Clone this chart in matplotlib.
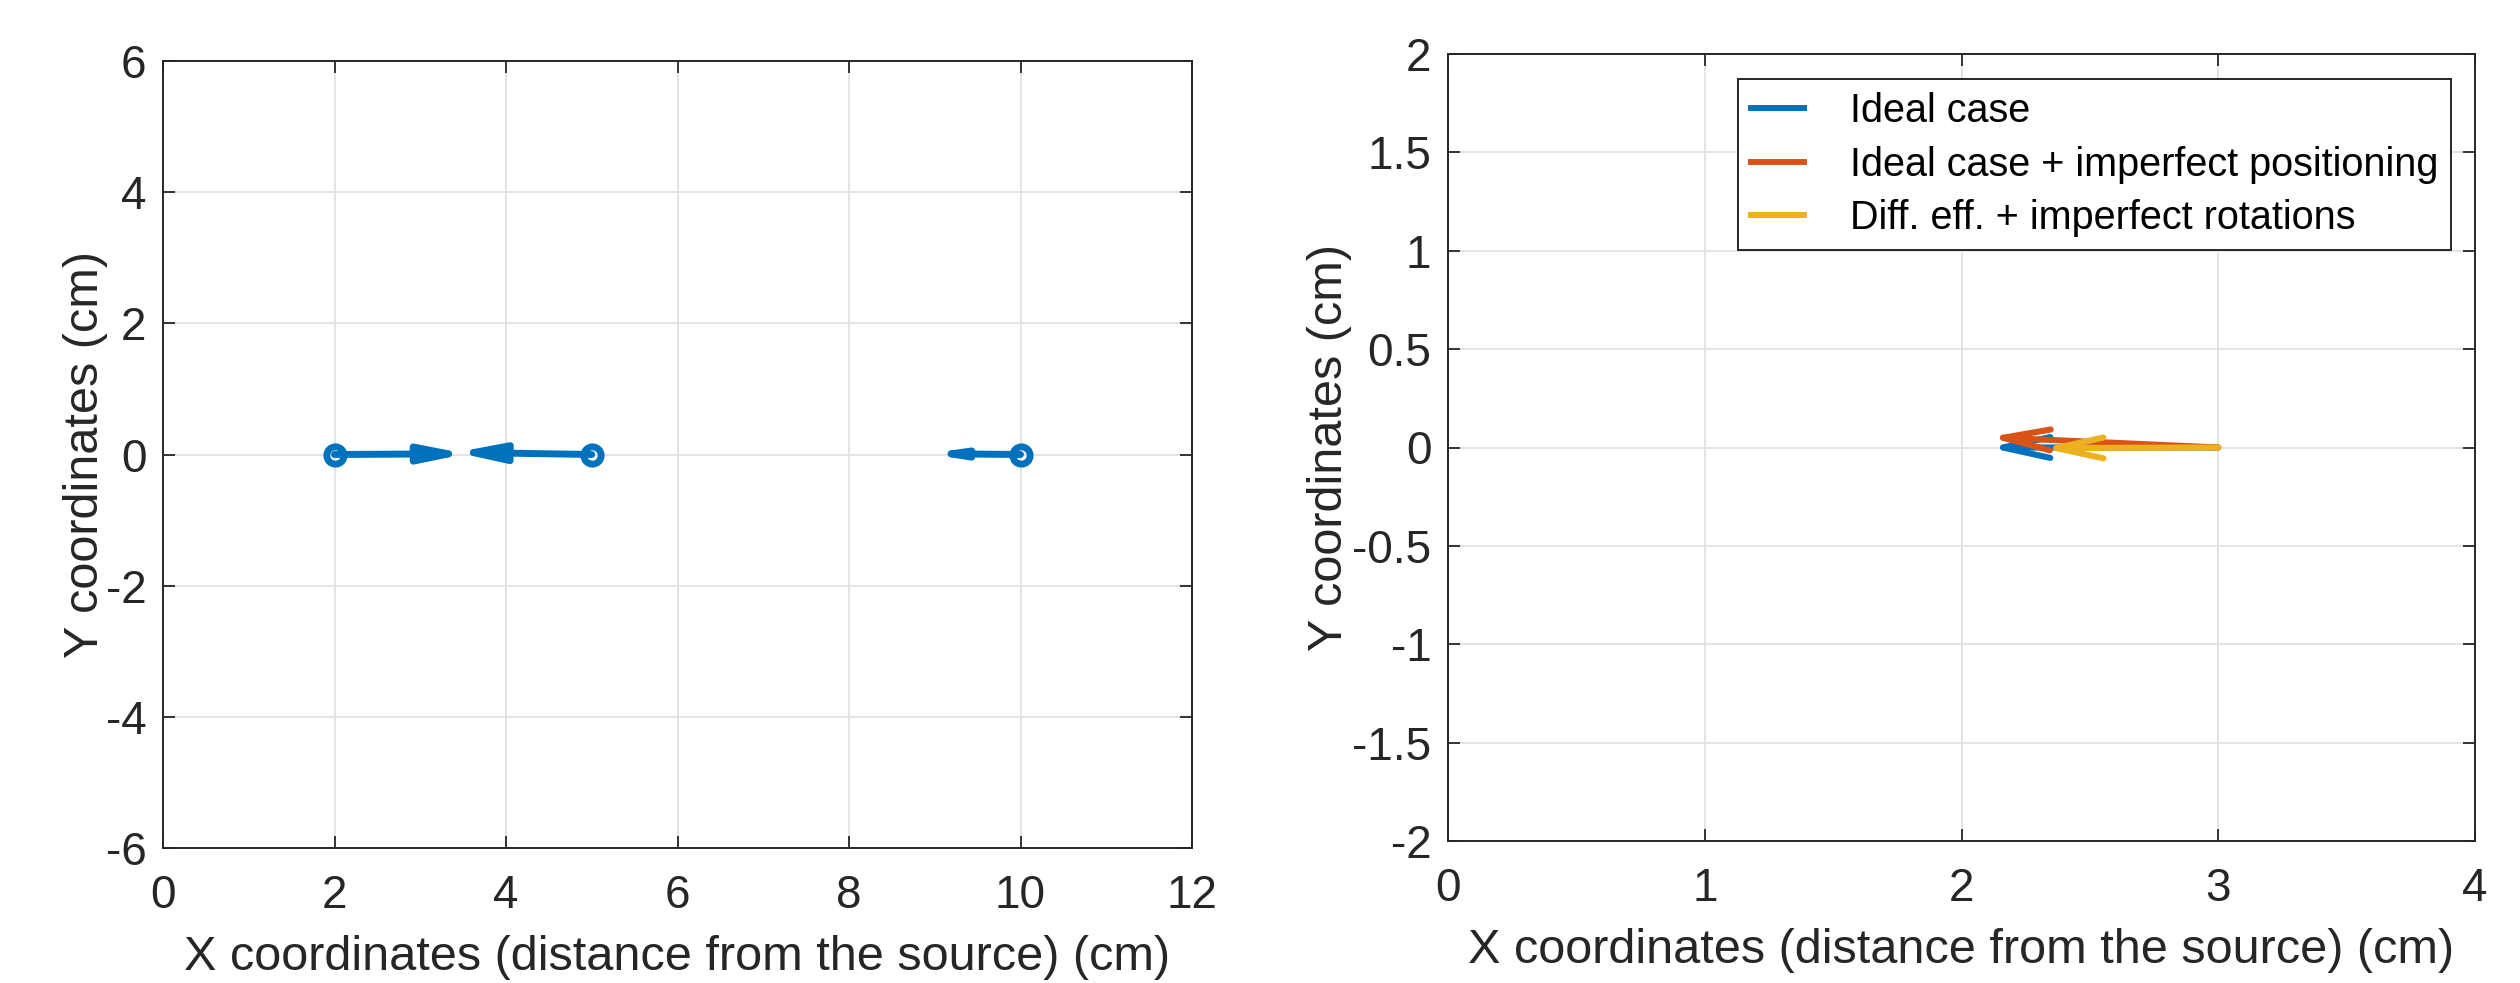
import matplotlib
matplotlib.use('Agg')
import matplotlib.pyplot as plt
from matplotlib.patches import FancyArrowPatch, ArrowStyle
from matplotlib.lines import Line2D
import numpy as np

plt.rcParams['font.family'] = ['Liberation Sans', 'DejaVu Sans']
plt.rcParams['axes.unicode_minus'] = False

# ---------------- data ----------------
# Left panel: arrow base points (circle markers) and arrow tips
left_x0 = [2.0, 5.0, 10.0]
left_y0 = [0.0, 0.0, 0.0]
left_x1 = [3.37, 3.58, 9.15]
left_y1 = [0.01, 0.03, 0.01]

# Right panel: one arrow per case
series_names = ['Ideal case',
                'Ideal case + imperfect positioning',
                'Diff. eff. + imperfect rotations']
right_x0 = [3.0, 3.0, 3.0]
right_y0 = [0.0, 0.0, 0.0]
right_x1 = [2.15, 2.15, 2.357]
right_y1 = [0.0, 0.05, -0.003]

left_xticks = [0, 2, 4, 6, 8, 10, 12]
left_yticks = [-6, -4, -2, 0, 2, 4, 6]
right_xticks = [0, 1, 2, 3, 4]
right_yticks = [-2, -1.5, -1, -0.5, 0, 0.5, 1, 1.5, 2]
xlabel_text = 'X coordinates (distance from the source) (cm)'
ylabel_text = 'Y coordinates (cm)'

# ---------------- style ----------------
DARK = '#262626'
BLUE = '#0072BD'
ORANGE = '#D95319'
YELLOW = '#EDB120'
series_colors = [BLUE, ORANGE, YELLOW]

W, H = 2520, 983
fig = plt.figure(figsize=(W / 100, H / 100), dpi=100)
fig.patch.set_facecolor('white')

def px_axes(x0, y0, x1, y1):
    return fig.add_axes([x0 / W, 1 - y1 / H, (x1 - x0) / W, (y1 - y0) / H])

ax1 = px_axes(163, 61, 1192, 848)
ax2 = px_axes(1448, 54, 2475, 841)


def style(ax, xt, yt, ypad):
    ax.set_xlim(xt[0], xt[-1])
    ax.set_ylim(yt[0], yt[-1])
    ax.set_xticks(xt)
    ax.set_yticks(yt)
    ax.set_xticklabels([f'{v:g}' for v in xt])
    ax.set_yticklabels([f'{v:g}' for v in yt])
    ax.grid(True, color='#e2e2e2', lw=1.3)
    ax.set_axisbelow(True)
    ax.tick_params(direction='in', length=8.5, width=1.3, color=DARK,
                   labelcolor=DARK, labelsize=33, top=True, right=True)
    ax.tick_params(axis='x', pad=19)
    ax.tick_params(axis='y', pad=12)
    for s in ax.spines.values():
        s.set_color(DARK)
        s.set_linewidth(1.4)
    ax.set_xlabel(xlabel_text, fontsize=35, color=DARK, labelpad=12)
    ax.set_ylabel(ylabel_text, fontsize=35, color=DARK, labelpad=ypad)


style(ax1, left_xticks, left_yticks, -2.0)
style(ax2, right_xticks, right_yticks, 0.0)


def add_arrow(ax, x0, y0, x1, y1, color, lw, kind, hl, hw):
    # FancyArrowPatch pulls the tip back for thick lines; push the end
    # point forward (in display space) so the rounded tip lands on (x1, y1).
    sin_t = hw / np.hypot(hl, hw)
    ext_px = (0.5 * lw / sin_t - 0.5 * lw) * fig.dpi / 72
    p0 = ax.transData.transform((x0, y0))
    p1 = ax.transData.transform((x1, y1))
    u = (p1 - p0) / np.hypot(*(p1 - p0))
    end = ax.transData.inverted().transform(p1 + u * ext_px)
    arr = FancyArrowPatch((x0, y0), tuple(end),
                          arrowstyle=ArrowStyle(kind, head_length=hl, head_width=hw),
                          mutation_scale=1, shrinkA=0, shrinkB=0,
                          color=color, lw=lw, capstyle='round',
                          joinstyle='round', zorder=4)
    ax.add_patch(arr)


# ---------------- left panel ----------------
ax1.plot(left_x0, left_y0, 'o', ls='none', mfc='none', mec=BLUE,
         ms=12.5, mew=4.9, zorder=3)

LW_L = 5.0  # points
for x0, y0, x1, y1 in zip(left_x0, left_y0, left_x1, left_y1):
    p0 = ax1.transData.transform((x0, y0))
    p1 = ax1.transData.transform((x1, y1))
    L = np.hypot(*(p1 - p0)) * 72 / fig.dpi  # length in points
    hl = 0.33 * L - LW_L / 2
    hw = max(0.09 * L - LW_L / 2, 1.5)
    add_arrow(ax1, x0, y0, x1, y1, BLUE, LW_L, '-|>', hl, hw)

# ---------------- right panel ----------------
LW_R = 4.4
for x0, y0, x1, y1, c in zip(right_x0, right_y0, right_x1, right_y1, series_colors):
    add_arrow(ax2, x0, y0, x1, y1, c, LW_R, '->', 34, 7.5)

handles = [Line2D([], [], color=c, lw=4.3) for c in series_colors]
leg = ax2.legend(handles, series_names, loc='upper right',
                 bbox_to_anchor=(2451 / W, 1 - 79 / H),
                 bbox_transform=fig.transFigure,
                 fontsize=28.5, frameon=True, fancybox=False,
                 edgecolor=DARK, facecolor='white', framealpha=1,
                 borderaxespad=0, borderpad=0.32, handlelength=1.36,
                 handletextpad=1.15, labelspacing=0.4)
leg.get_frame().set_linewidth(1.4)
for t in leg.get_texts():
    t.set_color('black')

fig.savefig('out.png', dpi=100, facecolor='white')
